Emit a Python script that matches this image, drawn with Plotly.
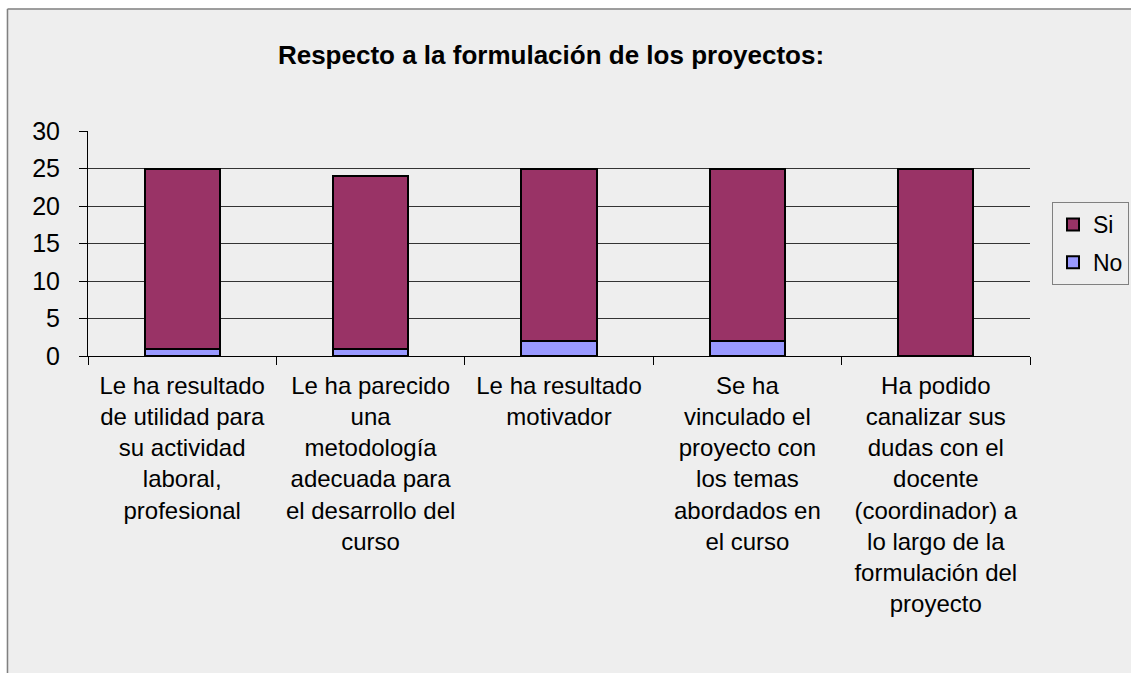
import plotly.graph_objects as go

categories = [
    "Le ha resultado<br>de utilidad para<br>su actividad<br>laboral,<br>profesional",
    "Le ha parecido<br>una<br>metodología<br>adecuada para<br>el desarrollo del<br>curso",
    "Le ha resultado<br>motivador",
    "Se ha<br>vinculado el<br>proyecto con<br>los temas<br>abordados en<br>el curso",
    "Ha podido<br>canalizar sus<br>dudas con el<br>docente<br>(coordinador) a<br>lo largo de la<br>formulación del<br>proyecto",
]
no_values = [1, 1, 2, 2, 0]
si_values = [24, 23, 23, 23, 25]
y_ticks = [0, 5, 10, 15, 20, 25, 30]
title_text = "Respecto a la formulación de los proyectos:"

FONT = "Liberation Sans, Arial, sans-serif"
BG = "#EEEEEE"

fig = go.Figure()
fig.add_trace(go.Bar(
    x=categories, y=no_values, name="No", legendgroup="no", legendrank=2,
    marker=dict(color="#9999FF", line=dict(color="black", width=2)),
    width=0.4,
))
fig.add_trace(go.Bar(
    x=categories, y=si_values, name="Si", legendgroup="si", legendrank=1,
    marker=dict(color="#993366", line=dict(color="black", width=2)),
    width=0.4,
))

W, H = 1131, 673
L, T = 88, 131
R = W - L - 942
B = H - T - 225
pw = W - L - R
ph = H - T - B

def px_x(p):
    return (p - L) / pw

def px_y(p):
    return (H - B - p) / ph

fig.update_layout(
    width=W, height=H,
    margin=dict(l=L, r=R, t=T, b=B, pad=0, autoexpand=False),
    barmode="stack",
    paper_bgcolor=BG,
    plot_bgcolor=BG,
    font=dict(family=FONT, size=24, color="black"),
    title=dict(text=title_text, x=551 / W, xref="container", xanchor="center",
               y=1 - 55 / H, yanchor="middle",
               font=dict(family=FONT, size=26, color="black", weight="bold")),
    showlegend=True,
    legend=dict(
        xref="container", yref="container",
        x=1052 / W, y=1 - 202 / H, xanchor="left", yanchor="top",
        bgcolor=BG, bordercolor="#808080", borderwidth=1,
        font=dict(family=FONT, size=23, color="black"),
        traceorder="grouped", tracegroupgap=5,
    ),
    xaxis=dict(
        showgrid=False, showline=True, linecolor="black", linewidth=1,
        ticks="outside", ticklen=8, tickcolor="black", tickson="boundaries",
        tickangle=0, tickfont=dict(family=FONT, size=24, color="black"),
        ticklabelstandoff=8,
    ),
    yaxis=dict(
        range=[0, 30], tickvals=y_ticks,
        showgrid=True, gridcolor="#333333", gridwidth=1,
        showline=True, linecolor="black", linewidth=1,
        ticks="outside", ticklen=8, tickcolor="black",
        tickfont=dict(family=FONT, size=25, color="black"),
        ticklabelstandoff=14, zeroline=False,
    ),
    shapes=[
        # white strip outside the chart border (top and left)
        dict(type="rect", xref="paper", yref="paper", layer="below",
             x0=px_x(-20), x1=px_x(1200), y0=px_y(8.5), y1=px_y(-20),
             fillcolor="white", line=dict(width=0)),
        dict(type="rect", xref="paper", yref="paper", layer="below",
             x0=px_x(-20), x1=px_x(6.5), y0=px_y(720), y1=px_y(-20),
             fillcolor="white", line=dict(width=0)),
        # chart border: left and top edges only
        dict(type="line", xref="paper", yref="paper", layer="below",
             x0=px_x(7.5), x1=px_x(7.5), y0=px_y(720), y1=px_y(9),
             line=dict(color="#808080", width=1.5)),
        dict(type="line", xref="paper", yref="paper", layer="below",
             x0=px_x(7.5), x1=px_x(1200), y0=px_y(9), y1=px_y(9),
             line=dict(color="#808080", width=1.5)),
    ],
)

fig.write_html(
    "out.html",
    config={"displayModeBar": False},
    post_script="document.body.style.margin='0';document.body.style.overflow='hidden';",
)
